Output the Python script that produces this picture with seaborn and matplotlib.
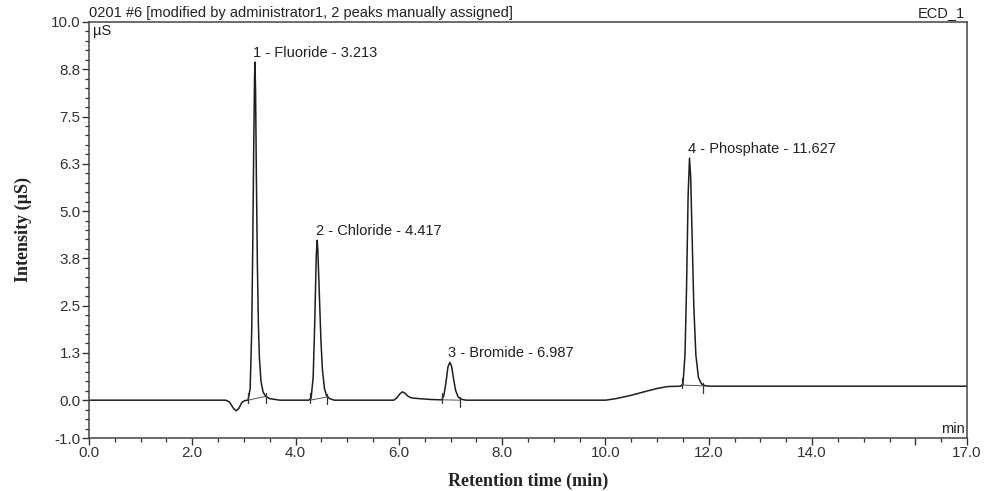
import numpy as np
import pandas as pd
import matplotlib
matplotlib.use("Agg")
import matplotlib.pyplot as plt
import seaborn as sns
from matplotlib.ticker import MultipleLocator, FixedLocator

# ---- data ----
trace_time = [
    0.0, 2.65, 2.72, 2.80, 2.85, 2.90, 2.96, 3.02, 3.08,
    3.12, 3.15, 3.17, 3.19, 3.205, 3.213, 3.225, 3.24, 3.26, 3.28, 3.30, 3.33, 3.37, 3.42, 3.50, 3.60, 3.70,
    4.25, 4.30, 4.34, 4.37, 4.40, 4.417, 4.43, 4.46, 4.49, 4.52, 4.56, 4.60, 4.66, 4.75,
    5.90, 5.96, 6.02, 6.07, 6.12, 6.18, 6.25, 6.40, 6.60, 6.80,
    6.83, 6.87, 6.91, 6.95, 6.987, 7.02, 7.06, 7.10, 7.15, 7.22, 7.30,
    10.0, 10.2, 10.5, 10.8, 11.0, 11.2, 11.45,
    11.50, 11.54, 11.57, 11.60, 11.627, 11.65, 11.68, 11.71, 11.75, 11.80, 11.86, 11.93, 12.05,
    17.0,
]
trace_signal = [
    0.0, 0.0, -0.05, -0.22, -0.28, -0.22, -0.06, -0.01, 0.0,
    0.3, 1.8, 4.0, 6.8, 8.5, 8.94, 8.2, 6.0, 3.6, 2.0, 1.1, 0.5, 0.22, 0.1, 0.04, 0.02, 0.0,
    0.0, 0.05, 0.6, 2.0, 3.8, 4.23, 4.0, 2.8, 1.6, 0.8, 0.3, 0.12, 0.04, 0.0,
    0.0, 0.06, 0.17, 0.22, 0.18, 0.10, 0.06, 0.04, 0.02, 0.01,
    0.01, 0.12, 0.45, 0.88, 1.0, 0.9, 0.55, 0.25, 0.08, 0.02, 0.0,
    0.0, 0.04, 0.13, 0.24, 0.31, 0.36, 0.37,
    0.42, 1.2, 3.0, 5.4, 6.4, 5.9, 4.2, 2.5, 1.2, 0.6, 0.43, 0.38, 0.37,
    0.37,
]

peak_labels = ["1 - Fluoride - 3.213", "2 - Chloride - 4.417",
               "3 - Bromide - 6.987", "4 - Phosphate - 11.627"]
peak_times = [3.213, 4.417, 6.987, 11.627]
peak_heights = [8.94, 4.23, 1.0, 6.4]
peak_start = [3.08, 4.28, 6.83, 11.49]
peak_end = [3.42, 4.60, 7.18, 11.89]
start_level = [0.0, 0.0, 0.01, 0.40]
end_level = [0.10, 0.08, 0.0, 0.38]

x_ticks = [0, 2, 4, 6, 8, 10, 12, 14, 16, 17]
x_tick_labels = ["0.0", "2.0", "4.0", "6.0", "8.0", "10.0", "12.0", "14.0", "", "17.0"]
y_ticks = [-1.0, 0.0, 1.25, 2.5, 3.75, 5.0, 6.25, 7.5, 8.75, 10.0]
y_tick_labels = ["-1.0", "0.0", "1.3", "2.5", "3.8", "5.0", "6.3", "7.5", "8.8", "10.0"]

title_left = "0201 #6 [modified by administrator1, 2 peaks manually assigned]"
title_right = "ECD_1"

# ---- plot ----
sns.set_style("white")
plt.rcParams['font.family'] = ['Liberation Sans', 'DejaVu Sans']

fig = plt.figure(figsize=(9.86, 4.91), dpi=100)
ax = fig.add_axes([89/986, 1-438/491, (967-89)/986, (438-22)/491])

df = pd.DataFrame({"time": trace_time, "signal": trace_signal})
line_col = "#1e1e1e"
sns.lineplot(data=df, x="time", y="signal", ax=ax, color=line_col,
             linewidth=1.1, sort=False, estimator=None)

# integration baselines and peak delimiters
for s, e, sl, el in zip(peak_start, peak_end, start_level, end_level):
    ax.plot([s, e], [sl, el], color="#555555", linewidth=0.7)
    ax.plot([s, s], [sl - 0.08, sl + 0.18], color="#333333", linewidth=0.9)
    ax.plot([e, e], [el - 0.18, el + 0.08], color="#333333", linewidth=0.9)

for lab, t, h in zip(peak_labels, peak_times, peak_heights):
    ax.text(t - 0.03, h + 0.06, lab, ha="left", va="bottom",
            fontsize=10.5, color="#222222")

ax.set_xlim(0, 17)
ax.set_ylim(-1.0, 10.0)
ax.set_xticks(x_ticks)
ax.set_xticklabels(x_tick_labels)
ax.set_yticks(y_ticks)
ax.set_yticklabels(y_tick_labels)
ax.xaxis.set_minor_locator(MultipleLocator(0.5))
ax.yaxis.set_minor_locator(MultipleLocator(0.25))
ax.tick_params(axis="both", which="major", direction="out", length=5, width=1,
               color="#333333", labelsize=11, labelcolor="#333333", pad=1,
               bottom=True, left=True)
ax.tick_params(axis="both", which="minor", direction="out", length=3, width=0.9,
               color="#333333", bottom=True, left=True)

for sp in ax.spines.values():
    sp.set_color("#444444")
    sp.set_linewidth(1.1)
    sp.set_visible(True)

ax.text(0.0, 1.004, title_left, transform=ax.transAxes, ha="left", va="bottom",
        fontsize=10.5, color="#222222")
ax.text(0.998, 1.004, title_right, transform=ax.transAxes, ha="right", va="bottom",
        fontsize=10.5, color="#222222")
ax.text(0.004, 0.995, "µS", transform=ax.transAxes, ha="left", va="top",
        fontsize=10.5, color="#222222")
ax.text(0.997, 0.005, "min", transform=ax.transAxes, ha="right", va="bottom",
        fontsize=10.5, color="#222222")

ax.set_xlabel("Retention time (min)", fontsize=13, fontweight="bold",
              family=["Liberation Serif", "DejaVu Serif"], labelpad=9, color="#222222")
ax.set_ylabel("Intensity (µS)", fontsize=13, fontweight="bold",
              family=["Liberation Serif", "DejaVu Serif"], labelpad=14, color="#222222")

fig.savefig("out.png", dpi=100, facecolor="white")
